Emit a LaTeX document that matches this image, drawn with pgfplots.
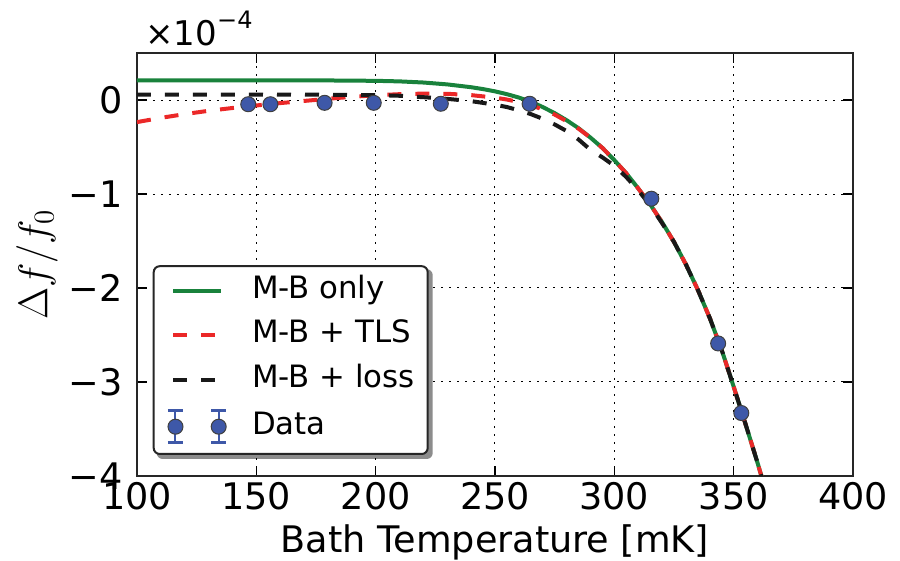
\documentclass[border=0pt]{standalone}
\usepackage{fontspec}
\setmainfont{DejaVu Sans}
\usepackage{pgfplots}
\pgfplotsset{compat=1.18}
\pgfdeclarelayer{bg}
\pgfsetlayers{bg,main}
\definecolor{mbgreen}{RGB}{25,130,60}
\definecolor{mbred}{RGB}{235,40,40}
\definecolor{mbblack}{RGB}{25,25,25}
\definecolor{dblue}{RGB}{62,88,168}
\newcommand{\tfont}{\fontsize{18.3}{20}\selectfont}
\pgfplotsset{lineimg/.style={legend image code/.code={\draw[##1, sharp corners] (0pt,0pt) -- (24pt,0pt);}}}
\begin{document}
\begin{tikzpicture}
\begin{axis}[name=ax, scale only axis,
  width=358pt, height=211.5pt,
  xmin=100, xmax=400, ymin=-4, ymax=0.5,
  xtick={100,150,200,250,300,350,400},
  ytick={-4,-3,-2,-1,0}, yticklabels={−4,−3,−2,−1,0},
  /pgf/number format/assume math mode=true,
  tick label style={font=\tfont, inner sep=0pt},
  xticklabel style={yshift=-3pt},
  yticklabel style={xshift=-7pt},
  tick align=inside, major tick length=5pt,
  tick style={black, line width=0.8pt},
  axis line style={black!85, line width=1pt},
  grid=major,
  major grid style={black, line width=0.5pt, dash pattern=on 1pt off 3pt},
  xlabel={Bath Temperature [mK]},
  xlabel style={font=\tfont, at={(axis description cs:0.5,-0.182)}, anchor=base},
  ylabel={$\Delta f/f_0$},
  ylabel style={font=\fontsize{21.5}{23}\selectfont, at={(axis description cs:-0.1397,0.5)}, anchor=center},
  legend style={name=leg, at={(axis description cs:0,0)}, anchor=south west,
    xshift=7.85pt, yshift=10.5pt,
    draw=black!85, line width=1pt, fill=white, rounded corners=3pt,
    font=\fontsize{15.4}{17}\selectfont,
    inner xsep=6.5pt, inner ysep=5pt, row sep=7.3pt, column sep=12.3pt,
    nodes={inner sep=0pt, text height=11.2pt, text depth=3.7pt}},
  legend cell align=left,
]
\addplot[only marks, mark=*, mark size=3.75pt,
  mark options={fill=dblue, draw=black!75, line width=0.5pt},
  forget plot] coordinates {
(146.6,-0.045) (155.9,-0.045) (178.6,-0.03) (199.2,-0.03) (227.3,-0.04)
(264.5,-0.04) (315.5,-1.05) (343.5,-2.59) (353.2,-3.33)
};
\addplot[mbgreen, line width=2pt, lineimg] coordinates {
(100,0.21) (150,0.21) (180,0.208) (200,0.204) (210,0.198) (220,0.186)
(230,0.166) (240,0.136) (245,0.116) (250,0.092) (255,0.062) (260,0.026)
(265,-0.018) (270,-0.075) (275,-0.14) (280,-0.215) (285,-0.30) (290,-0.40)
(295,-0.51) (300,-0.64) (305,-0.78) (310,-0.94) (315,-1.11) (320,-1.30)
(325,-1.51) (330,-1.75) (335,-2.02) (340,-2.32) (345,-2.66) (350,-3.05)
(355,-3.45) (360,-3.86) (363,-4.12)
};
\addlegendentry{M-B only}
\addplot[mbred, line width=2pt, dash pattern=on 7pt off 7pt, lineimg] coordinates {
(100,-0.235) (110,-0.19) (120,-0.15) (130,-0.115) (140,-0.085) (150,-0.058)
(160,-0.033) (170,-0.01) (180,0.013) (190,0.034) (200,0.05) (210,0.062)
(220,0.068) (230,0.066) (240,0.052) (250,0.025) (255,0.005) (260,-0.022)
(265,-0.055) (270,-0.10) (275,-0.155) (280,-0.225) (285,-0.305) (290,-0.40)
(295,-0.51) (300,-0.64) (305,-0.78) (310,-0.94) (315,-1.11) (320,-1.30)
(325,-1.51) (330,-1.75) (335,-2.02) (340,-2.32) (345,-2.66) (350,-3.05)
(355,-3.45) (360,-3.86) (363,-4.12)
};
\addlegendentry{M-B + TLS}
\addplot[mbblack, line width=2pt, dash pattern=on 7pt off 7pt, lineimg] coordinates {
(100,0.058) (150,0.058) (180,0.056) (200,0.052) (210,0.045) (220,0.03)
(230,0.012) (240,-0.012) (250,-0.05) (255,-0.075) (260,-0.11) (265,-0.15)
(270,-0.20) (275,-0.26) (280,-0.33) (285,-0.42) (290,-0.53) (295,-0.61)
(300,-0.70) (305,-0.82) (310,-0.96) (315,-1.12) (320,-1.31)
(325,-1.51) (330,-1.75) (335,-2.02) (340,-2.32) (345,-2.66) (350,-3.05)
(355,-3.45) (360,-3.86) (363,-4.12)
};
\addlegendentry{M-B + loss}
\addlegendimage{legend image code/.code={
  \draw[dblue, line width=1pt, sharp corners] (1.2pt,-8pt) -- (1.2pt,8pt) (22.8pt,-8pt) -- (22.8pt,8pt);
  \draw[dblue, line width=1.3pt, sharp corners] (-2.55pt,-8pt) -- (4.95pt,-8pt) (-2.55pt,8pt) -- (4.95pt,8pt)
     (19.05pt,-8pt) -- (26.55pt,-8pt) (19.05pt,8pt) -- (26.55pt,8pt);
  \draw[fill=dblue, draw=black!75, line width=0.5pt] (1.2pt,0pt) circle (3.75pt) (22.8pt,0pt) circle (3.75pt);
}}
\addlegendentry{Data}
\end{axis}
\begin{pgfonlayer}{bg}
\fill[black!45, rounded corners=3pt] ([shift={(2pt,-2pt)}]leg.south west) rectangle ([shift={(2pt,-2pt)}]leg.north east);
\end{pgfonlayer}
\node[anchor=base west, inner sep=0pt] at ([xshift=4pt,yshift=4pt]ax.north west)
  {\fontsize{17}{18}\selectfont ×10\raisebox{8.5pt}{\fontsize{12}{12}\selectfont −4}};
\pgfresetboundingbox
\path (ax.south west) ++(-68.5pt,-42.5pt) rectangle ++(450pt,280.5pt);
\end{tikzpicture}
\end{document}
